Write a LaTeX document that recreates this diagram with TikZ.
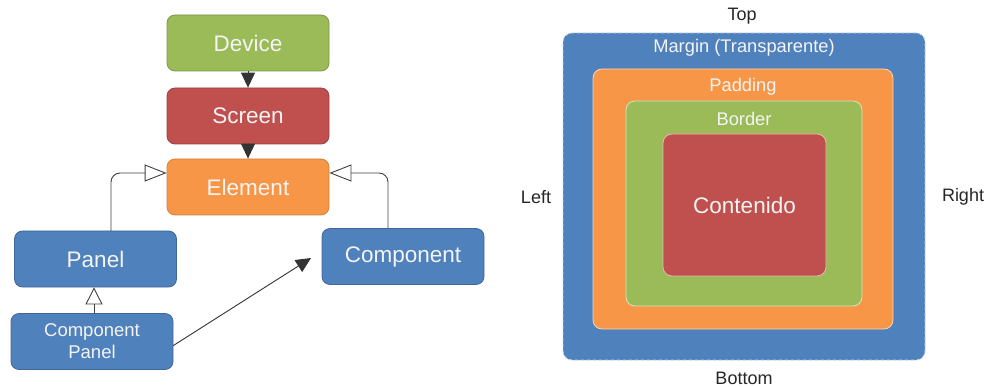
\documentclass[tikz,border=0pt]{standalone}
\usepackage{fontspec}
\setmainfont{Liberation Sans}
\usetikzlibrary{arrows.meta}
\definecolor{boxgreen}{HTML}{9BBB59}
\definecolor{boxred}{HTML}{C0504D}
\definecolor{boxorange}{HTML}{F79646}
\definecolor{boxblue}{HTML}{4F81BD}
\definecolor{labeltext}{HTML}{F4F4F4}
\tikzset{
  every picture/.style={line join=round, line cap=round, >=Stealth},
  box/.style={rounded corners=8pt, minimum width=162pt, minimum height=56pt, inner sep=0pt,
    align=center, text=labeltext, line width=0.8pt, font=\fontsize{22.5}{23}\selectfont},
  smallbox/.style={box, font=\fontsize{18.5}{22}\selectfont},
  uses/.style={-{Triangle[length=15pt,width=14pt]}, line width=0.9pt, black!80},
  inherit/.style={-{Triangle[open,fill=white,length=22pt,width=17pt]}, line width=0.9pt, black!75},
  layer/.style={rounded corners=9pt, inner sep=0pt, line width=0.8pt},
  layertext/.style={text=labeltext, font=\fontsize{18.3}{19}\selectfont},
  side/.style={text=black!85, font=\fontsize{18}{19}\selectfont},
}

\begin{document}
\begin{tikzpicture}[x=1pt,y=-1pt]
\useasboundingbox (0,0) rectangle (984,387);

% class hierarchy
\node[box,fill=boxgreen,draw=boxgreen!80!black] (device) at (248,43) {Device};
\node[box,fill=boxred,draw=boxred!80!black] (screen) at (248,116) {Screen};
\node[box,fill=boxorange,draw=boxorange!85!black] (element) at (248,187) {Element};
\node[box,fill=boxblue,draw=boxblue!80!black] (panel) at (95.5,259) {Panel};
\node[box,fill=boxblue,draw=boxblue!80!black] (component) at (403,256.5) {Component};
\node[smallbox,fill=boxblue,draw=boxblue!80!black] (cpanel) at (92,341.5) {Component\\Panel};
\coordinate (tip) at (311,258);

\draw[uses] (device) -- (screen);
\draw[uses] (screen) -- (element);
\draw[inherit,rounded corners=9pt] ([xshift=15.5pt]panel.north) |- ([yshift=14pt]element.west);
\draw[inherit,rounded corners=9pt] ([xshift=-15pt]component.north) |- ([yshift=14pt]element.east);
\draw[inherit,-{Triangle[open,fill=white,length=17pt,width=17pt]}] ([xshift=2pt]cpanel.north) -- ([xshift=-1.5pt]panel.south);
\draw[uses] ([yshift=-4pt]cpanel.east) -- (tip);

% box model
\node[layer,fill=boxblue,draw=white!65!boxblue,dashed,minimum width=362pt,minimum height=327pt] (margin) at (744,196.5) {};
\node[layer,fill=boxorange,draw=white!60!boxorange,minimum width=300pt,minimum height=260pt] (padding) at (743,199) {};
\node[layer,fill=boxgreen,draw=white!60!boxgreen,minimum width=236pt,minimum height=205pt] (border) at (744,203.5) {};
\node[layer,fill=boxred,draw=white!60!boxred,minimum width=163pt,minimum height=142pt,
  text=labeltext,font=\fontsize{22.5}{23}\selectfont] (content) at (744.5,205) {Contenido};

\node[layertext] at ([yshift=-15pt]margin.north) {Margin (Transparente)};
\node[layertext] at ([yshift=-18pt]padding.north) {Padding};
\node[layertext] at ([yshift=-18pt]border.north) {Border};

\node[side] at (742,16) {Top};
\node[side] at (744,378) {Bottom};
\node[side] at (536,197) {Left};
\node[side] at (963,197) {Right};
\end{tikzpicture}
\end{document}
